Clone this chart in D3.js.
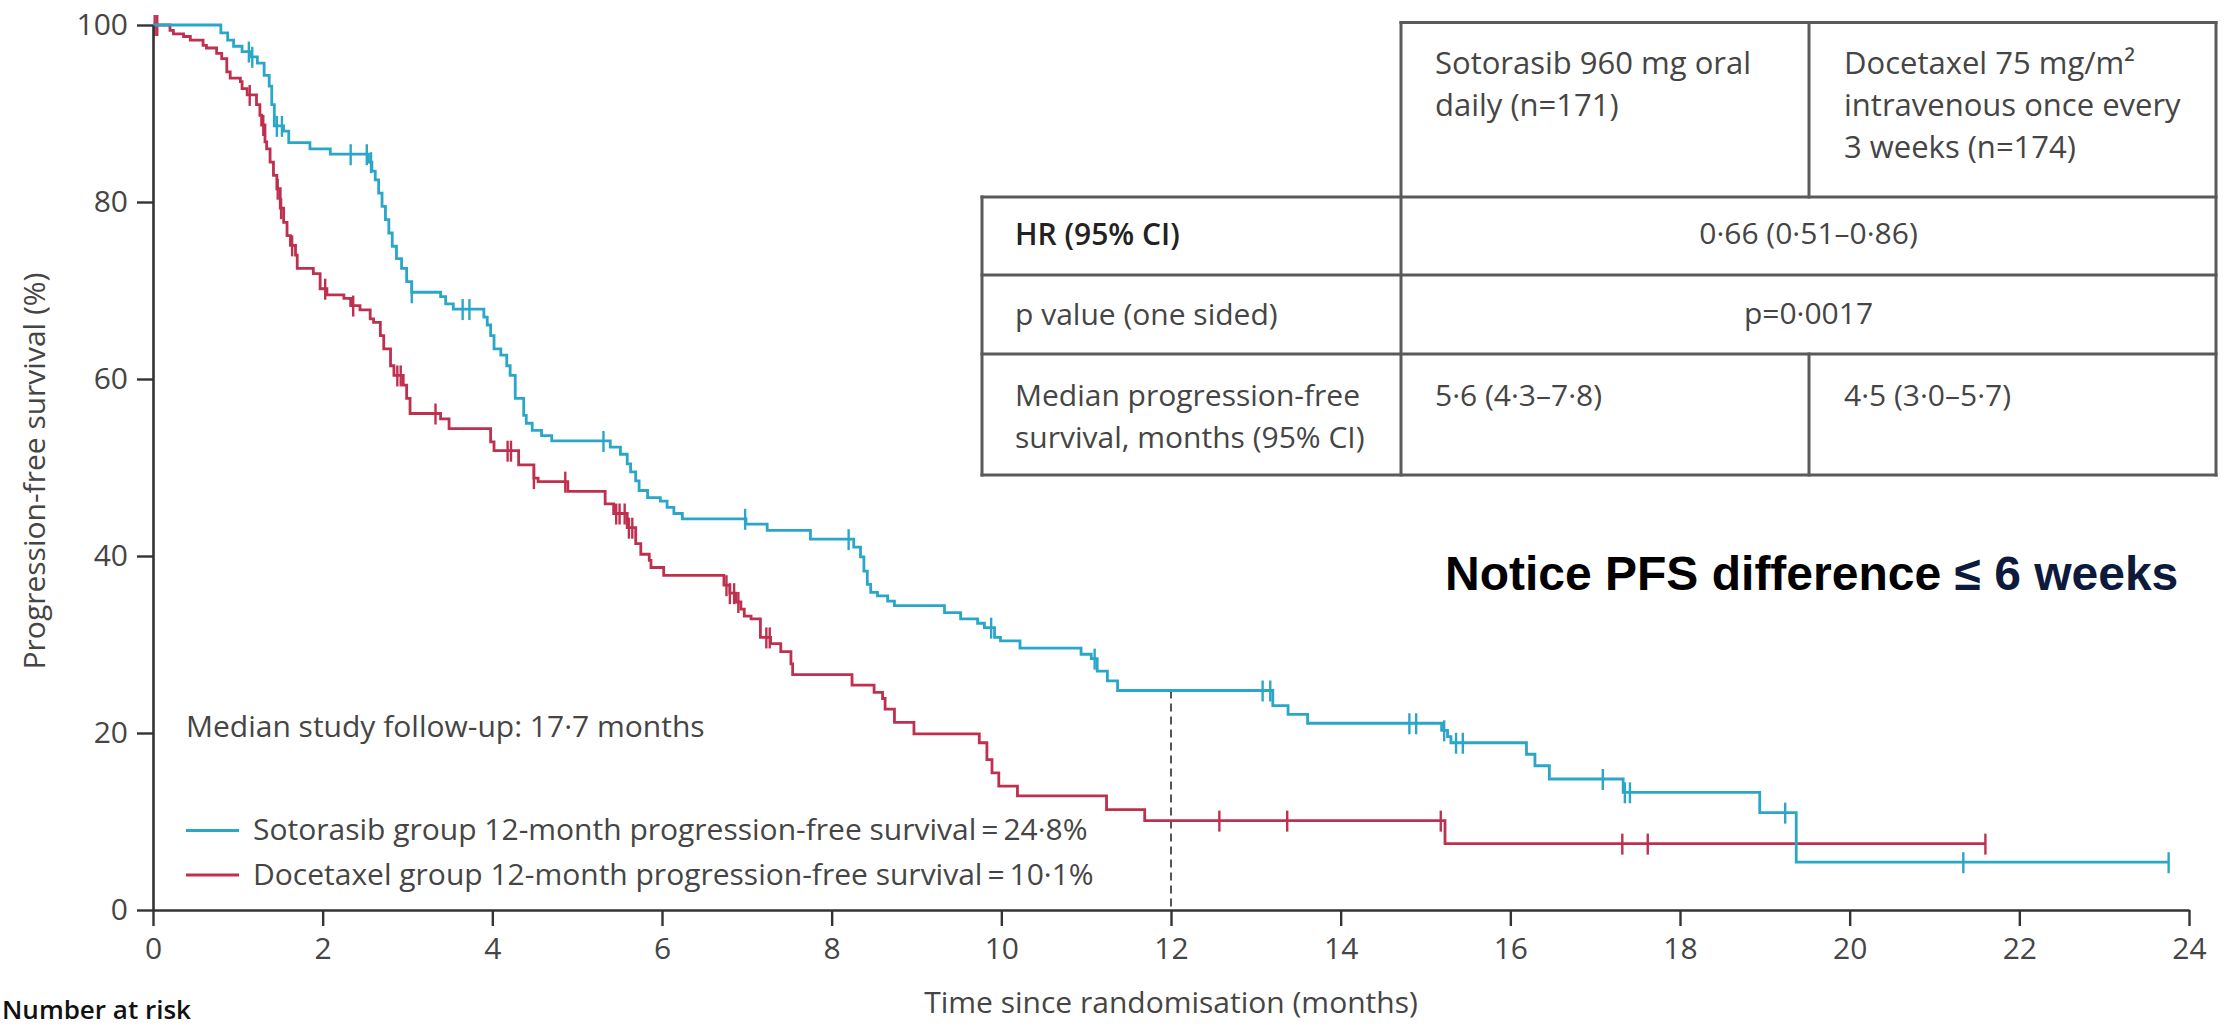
<!DOCTYPE html>
<html>
<head>
<meta charset="utf-8">
<script src="https://cdn.jsdelivr.net/npm/d3@7"></script>
<style>
  html, body { margin: 0; padding: 0; background: #ffffff; }
  svg { display: block; }
  text { font-family: "Open Sans", "Noto Sans", sans-serif; }
  text.note { font-family: "Liberation Sans", Arial, sans-serif; }
</style>
</head>
<body>
<svg id="chart" width="2238" height="1026"></svg>
<script>
// ---- Kaplan–Meier data: [months since randomisation, % progression-free] after each step ----
const sotorasibSteps = [
  [0, 100], [0.80, 99.1], [0.88, 98.3], [0.95, 97.6], [1.05, 97.0], [1.14, 96.4], [1.23, 95.7],
  [1.31, 94.3], [1.37, 93.1], [1.40, 91.0], [1.43, 88.6], [1.54, 88.0], [1.60, 86.7], [1.85, 86.0],
  [2.09, 85.4], [2.54, 84.5], [2.58, 83.5], [2.62, 82.5], [2.66, 81.0], [2.70, 79.5], [2.74, 78.0],
  [2.78, 76.5], [2.82, 75.0], [2.87, 73.6], [2.93, 72.5], [2.99, 71.0], [3.05, 69.8], [3.39, 69.3],
  [3.45, 68.5], [3.54, 67.9], [3.90, 67.0], [3.94, 66.1], [3.98, 64.9], [4.02, 63.4], [4.10, 62.7],
  [4.17, 61.5], [4.21, 60.4], [4.27, 57.8], [4.37, 55.9], [4.40, 55.0], [4.47, 54.2], [4.58, 53.6],
  [4.70, 53.0], [5.39, 52.3], [5.51, 51.5], [5.59, 50.4], [5.63, 49.5], [5.69, 48.5], [5.73, 47.4],
  [5.83, 46.6], [5.98, 46.2], [6.06, 45.5], [6.14, 44.8], [6.24, 44.2], [6.99, 43.6], [7.24, 42.9],
  [7.75, 41.9], [8.26, 41.0], [8.34, 39.9], [8.38, 38.3], [8.42, 36.8], [8.46, 35.9], [8.54, 35.5],
  [8.66, 34.9], [8.74, 34.4], [9.33, 33.6], [9.52, 32.9], [9.72, 32.4], [9.80, 31.9], [9.92, 30.8],
  [9.99, 30.4], [10.22, 29.6], [10.94, 28.9], [11.06, 28.4], [11.13, 27.0], [11.25, 25.9],
  [11.37, 24.8], [13.20, 23.1], [13.38, 22.1], [13.61, 21.1], [15.19, 20.3], [15.26, 19.6],
  [15.30, 18.9], [16.19, 17.6], [16.29, 16.3], [16.46, 14.8], [17.33, 13.3], [18.94, 11.0],
  [19.37, 5.4], [23.76, 5.4]
];

const docetaxelSteps = [
  [0, 100], [0.20, 99.4], [0.24, 99.0], [0.36, 98.7], [0.44, 98.3], [0.59, 97.7], [0.63, 97.4],
  [0.75, 96.8], [0.81, 96.2], [0.87, 94.7], [0.91, 94.0], [1.03, 93.6], [1.05, 92.8], [1.11, 92.1],
  [1.22, 91.0], [1.26, 89.8], [1.28, 88.7], [1.32, 86.8], [1.34, 86.0], [1.38, 84.5], [1.42, 83.0],
  [1.46, 81.5], [1.50, 79.3], [1.54, 77.7], [1.58, 76.2], [1.62, 75.1], [1.68, 74.0], [1.70, 72.5],
  [1.89, 71.9], [1.97, 70.2], [2.05, 69.5], [2.25, 69.1], [2.33, 68.3], [2.44, 67.8], [2.56, 66.8],
  [2.60, 66.4], [2.68, 64.9], [2.72, 63.4], [2.80, 61.5], [2.84, 60.4], [2.95, 59.3], [2.99, 57.8],
  [3.03, 56.1], [3.39, 55.5], [3.49, 54.4], [3.98, 52.9], [4.02, 51.9], [4.31, 50.3], [4.49, 48.8],
  [4.54, 48.4], [4.89, 47.3], [5.33, 45.9], [5.43, 44.8], [5.59, 43.2], [5.69, 41.4], [5.75, 40.2],
  [5.85, 39.5], [5.87, 38.7], [6.02, 37.8], [6.73, 36.7], [6.80, 35.8], [6.87, 34.8], [6.93, 34.0],
  [6.97, 33.2], [7.05, 32.9], [7.16, 30.8], [7.28, 30.1], [7.40, 29.2], [7.52, 27.8], [7.54, 26.6],
  [8.24, 25.4], [8.50, 24.6], [8.60, 23.9], [8.63, 22.7], [8.74, 21.2], [8.97, 19.9], [9.74, 18.9],
  [9.83, 17.0], [9.89, 15.5], [9.97, 14.0], [10.19, 12.9], [11.24, 11.35], [11.69, 10.1],
  [15.23, 7.5], [21.60, 7.5]
];

// Censoring times (months)
const sotorasibCensored = [1.13, 1.17, 1.46, 1.52, 2.33, 2.52, 2.57, 3.05, 3.65, 3.73, 5.31, 6.98,
  8.20, 9.88, 11.10, 13.08, 13.17, 14.81, 14.89, 15.22, 15.36, 15.44, 17.09, 17.35, 17.41, 19.24,
  21.34, 23.76];
const docetaxelCensored = [0.02, 0.05, 1.14, 1.30, 1.47, 1.51, 1.64, 2.03, 2.36, 2.88, 2.92, 3.33,
  4.18, 4.22, 4.49, 4.86, 5.46, 5.50, 5.56, 5.61, 5.65, 6.76, 6.80, 6.85, 6.90, 7.23, 7.27, 12.57,
  13.37, 15.18, 17.32, 17.62, 21.60];

// 12-month landmark estimates
const landmarkMonth = 12;
const sotorasib12 = 24.8;
const docetaxel12 = 10.1;

// Axis ticks
const xTicks = [0, 2, 4, 6, 8, 10, 12, 14, 16, 18, 20, 22, 24];
const yTicks = [0, 20, 40, 60, 80, 100];

// Summary table contents
const tableHeaders = [
  ["Sotorasib 960 mg oral", "daily (n=171)"],
  ["Docetaxel 75 mg/m\u00b2", "intravenous once every", "3 weeks (n=174)"]
];
const tableRowLabels = [
  ["HR (95% CI)"],
  ["p value (one sided)"],
  ["Median progression-free", "survival, months (95% CI)"]
];
const hazardRatio = "0\u00b766 (0\u00b751\u20130\u00b786)";
const pValue = "p=0\u00b70017";
const medianPFS = ["5\u00b76 (4\u00b73\u20137\u00b78)", "4\u00b75 (3\u00b70\u20135\u00b77)"];

// ---- drawing ----
const CYAN = "#2aa7c8";
const RED = "#bf2f4e";
const AXIS = "#333333";
const TEXT = "#454545";

const svg = d3.select("#chart");
const x = d3.scaleLinear().domain([0, 24]).range([153, 2189]);
const y = d3.scaleLinear().domain([0, 100]).range([910, 25]);

// step-function value at time t
function survivalAt(steps, t) {
  let v = steps[0][1];
  for (const s of steps) { if (s[0] <= t + 1e-9) v = s[1]; }
  return v;
}

// dashed 12-month reference line
svg.append("line")
  .attr("x1", x(landmarkMonth)).attr("x2", x(landmarkMonth))
  .attr("y1", y(sotorasib12)).attr("y2", y(0))
  .attr("stroke", "#555").attr("stroke-width", 2).attr("stroke-dasharray", "8,5");

const km = d3.line().x(d => x(d[0])).y(d => y(d[1])).curve(d3.curveStepAfter);

function drawArm(steps, censored, color) {
  const g = svg.append("g");
  g.append("path").datum(steps).attr("d", km)
    .attr("fill", "none").attr("stroke", color).attr("stroke-width", 2.8)
    .attr("stroke-linejoin", "miter");
  g.selectAll("line.cens").data(censored).join("line")
    .attr("class", "cens")
    .attr("x1", d => x(d)).attr("x2", d => x(d))
    .attr("y1", d => y(survivalAt(steps, d)) - 10)
    .attr("y2", d => y(survivalAt(steps, d)) + 11)
    .attr("stroke", color).attr("stroke-width", 2.4);
}
drawArm(docetaxelSteps, docetaxelCensored, RED);
drawArm(sotorasibSteps, sotorasibCensored, CYAN);

// axes
function styleAxis(g) {
  g.select(".domain").attr("stroke", AXIS).attr("stroke-width", 2.6);
  g.selectAll(".tick line").attr("stroke", AXIS).attr("stroke-width", 2.4);
  g.selectAll(".tick text").attr("fill", TEXT).attr("font-size", 30);
}
svg.append("g").attr("transform", `translate(${x(0)},0)`)
  .call(d3.axisLeft(y).tickValues(yTicks).tickSize(16).tickSizeOuter(0).tickPadding(9))
  .call(styleAxis);
svg.append("g").attr("transform", `translate(0,${y(0)})`)
  .call(d3.axisBottom(x).tickValues(xTicks).tickSize(16).tickSizeOuter(0).tickPadding(12))
  .call(styleAxis);

// axis titles
svg.append("text")
  .attr("transform", "translate(45,471) rotate(-90)")
  .attr("text-anchor", "middle").attr("font-size", 30).attr("fill", TEXT)
  .text("Progression-free survival (%)");
svg.append("text")
  .attr("x", x(12)).attr("y", 1013).attr("text-anchor", "middle")
  .attr("font-size", 30).attr("fill", TEXT)
  .text("Time since randomisation (months)");

// number-at-risk heading below the axis
svg.append("text")
  .attr("x", 2).attr("y", 1019)
  .attr("font-size", 26).attr("font-weight", 600).attr("fill", "#111")
  .text("Number at risk");

// follow-up note and legend
svg.append("text").attr("x", 186).attr("y", 737).attr("font-size", 30).attr("fill", TEXT)
  .text("Median study follow-up: 17\u00b77 months");

const pct = v => d3.format(".1f")(v).replace(".", "\u00b7") + "%";
const legendItems = [
  { color: CYAN, label: `Sotorasib group 12-month progression-free survival\u2009=\u2009${pct(sotorasib12)}` },
  { color: RED, label: `Docetaxel group 12-month progression-free survival\u2009=\u2009${pct(docetaxel12)}` }
];
const lg = svg.append("g").selectAll("g").data(legendItems).join("g")
  .attr("transform", (d, i) => `translate(0,${840 + i * 44.5})`);
lg.append("line").attr("x1", 186).attr("x2", 239).attr("y1", -9.5).attr("y2", -9.5)
  .attr("stroke", d => d.color).attr("stroke-width", 2.8);
lg.append("text").attr("x", 253).attr("y", 0).attr("font-size", 30).attr("fill", TEXT)
  .text(d => d.label);

// ---- summary table ----
const T = { left: 982, col2: 1401, col3: 1809, right: 2216, top: 22.5, head: 197, r1: 275, r2: 354, bottom: 475 };
const tg = svg.append("g");
const segs = [
  [T.col2, T.top, T.right, T.top],
  [T.left, T.head, T.right, T.head],
  [T.left, T.r1, T.right, T.r1],
  [T.left, T.r2, T.right, T.r2],
  [T.left, T.bottom, T.right, T.bottom],
  [T.left, T.head, T.left, T.bottom],
  [T.col2, T.top, T.col2, T.bottom],
  [T.right, T.top, T.right, T.bottom],
  [T.col3, T.top, T.col3, T.head],
  [T.col3, T.r2, T.col3, T.bottom]
];
tg.selectAll("line").data(segs).join("line")
  .attr("x1", d => d[0]).attr("y1", d => d[1]).attr("x2", d => d[2]).attr("y2", d => d[3])
  .attr("stroke", "#5a5a5a").attr("stroke-width", 3).attr("stroke-linecap", "square");

function multiline(g, lines, xPos, y0, lh, opts = {}) {
  const t = g.append("text").attr("x", xPos).attr("y", y0)
    .attr("font-size", opts.size || 30).attr("fill", opts.fill || TEXT)
    .attr("font-weight", opts.weight || 400)
    .attr("text-anchor", opts.anchor || "start");
  lines.forEach((ln, i) => {
    t.append("tspan").attr("x", xPos).attr("y", y0 + i * lh).text(ln);
  });
  return t;
}
multiline(tg, tableHeaders[0], 1435, 74, 41.5, { size: 31 });
multiline(tg, tableHeaders[1], 1844, 74, 42, { size: 31 });
multiline(tg, tableRowLabels[0], 1015, 245, 41, { weight: 600, fill: "#222" });
multiline(tg, tableRowLabels[1], 1015, 325, 41);
multiline(tg, tableRowLabels[2], 1015, 406, 42);
multiline(tg, [hazardRatio], (T.col2 + T.right) / 2, 244, 41, { anchor: "middle" });
multiline(tg, [pValue], (T.col2 + T.right) / 2, 324, 41, { anchor: "middle" });
multiline(tg, [medianPFS[0]], 1435, 406, 41);
multiline(tg, [medianPFS[1]], 1844, 406, 41);

// ---- annotation ----
const note = svg.append("text").attr("class", "note").attr("x", 1445).attr("y", 590)
  .attr("font-weight", 700).attr("font-size", 48).attr("fill", "#000");
note.append("tspan").text("Notice PFS difference ");
note.append("tspan").attr("fill", "#0d1a3c").text("\u2264 6 weeks");
</script>
</body>
</html>
